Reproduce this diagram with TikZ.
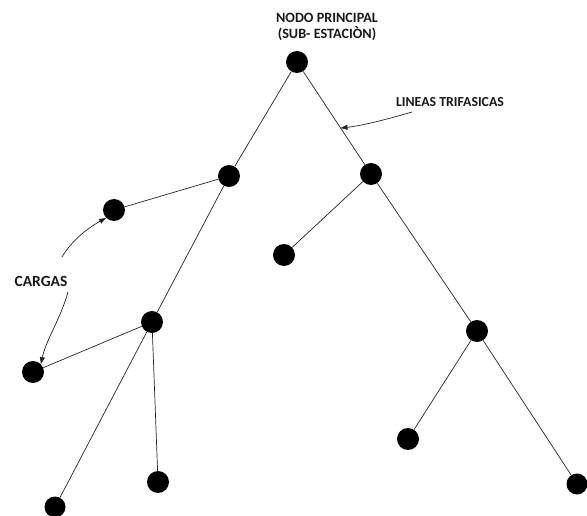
\documentclass[tikz,border=0pt]{standalone}
\usepackage{fontspec}
\setmainfont{Carlito}[BoldFont={Carlito Bold}]
\usetikzlibrary{arrows.meta}
\begin{document}
\begin{tikzpicture}[x=1pt,y=-1pt,
  dot/.style={circle,fill=black,minimum size=22pt,inner sep=0pt},
  sdot/.style={circle,fill=black,minimum size=21pt,inner sep=0pt},
  wire/.style={draw=black!85,line width=0.7pt},
  lbl/.style={font=\bfseries,text=black!90,align=center,inner sep=0pt},
  callout/.style={draw=black!85,line width=0.7pt,-{Triangle[length=7pt,width=5pt]}}]
\useasboundingbox (0,0) rectangle (587,516);
\node[dot] (R) at (297,62) {};
\node[dot] (A) at (229,176) {};
\node[dot] (B) at (371,174) {};
\node[dot] (C) at (114,210) {};
\node[dot] (D) at (284,255) {};
\node[dot] (E) at (152,322) {};
\node[dot] (F) at (477,331) {};
\node[dot] (G) at (33,372) {};
\node[dot] (H) at (408,439) {};
\node[dot] (I) at (158,482) {};
\node[sdot] (J) at (55,507) {};
\node[sdot] (K) at (577,484) {};
\draw[wire] (R) -- (A);
\draw[wire] (R) -- (B);
\draw[wire] (A) -- (C);
\draw[wire] (A) -- (E);
\draw[wire] (B) -- (D);
\draw[wire] (B) -- (F);
\draw[wire] (E) -- (G);
\draw[wire] (E) -- (J);
\draw[wire] (E) -- (I);
\draw[wire] (F) -- (H);
\draw[wire] (F) -- (K);
\node[lbl,font=\bfseries\fontsize{14.2}{16}\selectfont] (title) at (327,27) {NODO PRINCIPAL\\(SUB- ESTACIÒN)};
\node[lbl,font=\bfseries\fontsize{13.8}{16}\selectfont] (lin) at (450,102) {LINEAS TRIFASICAS};
\node[lbl,font=\bfseries\fontsize{15.5}{17}\selectfont] (car) at (41,281) {CARGAS};
\coordinate (lt) at (340.5,128);
\draw[callout] (412,112) .. controls (385,120) and (360,126) .. (lt);
\draw[callout] (62,257) .. controls (72,240) and (88,228) .. (C.south west);
\draw[callout] (68,292) .. controls (60,320) and (46,340) .. (G.north east);
\end{tikzpicture}
\end{document}
